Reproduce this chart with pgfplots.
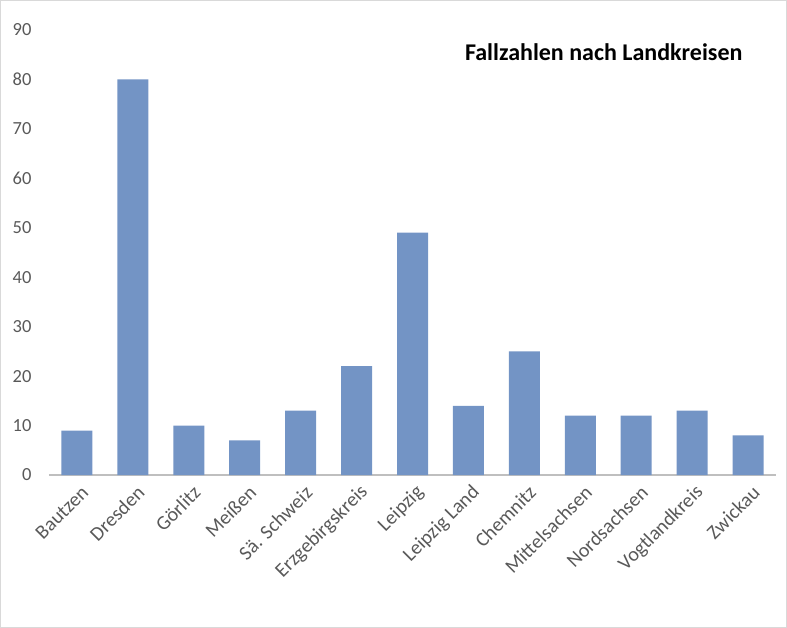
\documentclass[border=0pt]{standalone}
\usepackage{pgfplots}
\pgfplotsset{compat=1.18}
\usepackage{fontspec}
\setmainfont{Carlito}
\definecolor{barblue}{HTML}{7394C5}
\definecolor{labgray}{HTML}{595959}
\definecolor{axgray}{HTML}{BFBFBF}
\definecolor{framegray}{HTML}{D9D9D9}

\begin{document}
\begin{tikzpicture}
\begin{axis}[
  at={(0,0)}, anchor=south west,
  width=727bp, height=445bp,
  scale only axis,
  ybar, bar width=31bp,
  ymin=0, ymax=90,
  ytick={0,10,...,90},
  xmin=-0.5, xmax=12.5,
  xtick=data,
  xticklabels={Bautzen,Dresden,Görlitz,Meißen,Sä. Schweiz,Erzgebirgskreis,Leipzig,Leipzig Land,Chemnitz,Mittelsachsen,Nordsachsen,Vogtlandkreis,Zwickau},
  axis x line*=bottom,
  axis y line*=left,
  x axis line style={axgray, line width=1.6pt, -},
  y axis line style={draw=none},
  major tick length=0pt,
  tick style={draw=none},
  /pgf/number format/assume math mode=true,
  yticklabel style={font=\fontsize{18.5bp}{21bp}\selectfont, text=labgray, anchor=east, xshift=-14bp},
  xticklabel style={font=\fontsize{20bp}{23bp}\selectfont, text=labgray, rotate=45, anchor=east, xshift=-1bp, yshift=-16bp},
  clip=false,
]
\addplot[fill=barblue, draw=none] coordinates {(0,9) (1,80) (2,10) (3,7) (4,13) (5,22) (6,49) (7,14) (8,25) (9,12) (10,12) (11,13) (12,8)};
\node[font=\bfseries\fontsize{24bp}{28bp}\selectfont, anchor=center] at (rel axis cs:0.763,0.95) {Fallzahlen nach Landkreisen};
\end{axis}
\draw[framegray, line width=1bp] (-48.5bp,-152.5bp) rectangle (737.5bp,474.5bp);
\end{tikzpicture}
\end{document}
